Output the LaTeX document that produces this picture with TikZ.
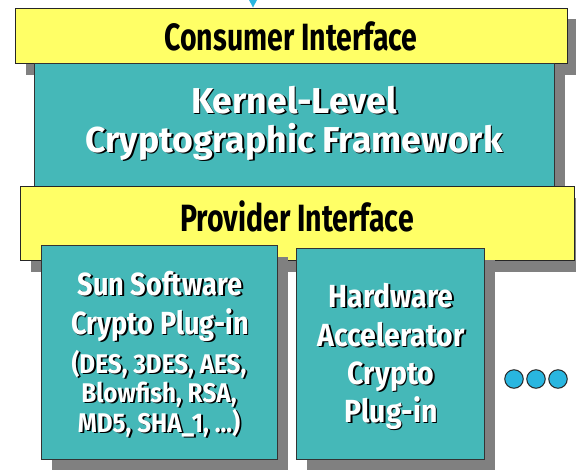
\documentclass[tikz,border=0pt]{standalone}
\usepackage{fontspec}
\setmainfont{Fira Sans}
\newfontfamily\fcond{Fira Sans}[FakeStretch=0.75]
\newfontfamily\fmid{Fira Sans}[FakeStretch=0.99]
\newfontfamily\fsub{Fira Sans}[FakeStretch=0.85]
\newfontfamily\fhw{Fira Sans}[FakeStretch=0.89]
\newfontfamily\fsmall{Fira Sans}[FakeStretch=0.9]
\usetikzlibrary{shadows}
\definecolor{boxyellow}{HTML}{FFFF66}
\definecolor{boxteal}{HTML}{45B8B8}
\definecolor{shadowgray}{HTML}{808080}
\definecolor{dotcyan}{HTML}{29B6E0}
\tikzset{
  shad/.style={general shadow={fill=shadowgray, shadow xshift=11pt, shadow yshift=-11.5pt}},
  ybox/.style={rectangle, draw=black!85, line width=0.8pt, fill=boxyellow, inner sep=0pt, anchor=north west, shad},
  tbox/.style={rectangle, draw=black!80, line width=0.8pt, fill=boxteal, inner sep=0pt, anchor=north west, shad},
  dot/.style={circle, draw=black!85, line width=1pt, fill=dotcyan, minimum size=18.5pt, inner sep=0pt},
  lbl/.style={anchor=base, inner sep=0pt}
}
\newcommand\wline[4]{%
  \node[lbl, text=black] (#1s) at (#2+1.8,#3+1.8) {#4};
  \node[lbl, text=white] (#1) at (#2,#3) {#4};}
\begin{document}
\begin{tikzpicture}[x=1pt,y=-1pt]
\useasboundingbox (0,0) rectangle (576,469);
% top arrow head
\fill[dotcyan] (248.5,-1) -- (257.5,-1) -- (253,7.5) -- cycle;
% boxes
\node[ybox, minimum width=552.5pt, minimum height=55.5pt] (cons) at (14.5,7.5) {};
\node[tbox, minimum width=520pt, minimum height=123pt] (kern) at (34,63) {};
\node[ybox, minimum width=554pt, minimum height=74pt] (prov) at (20,186) {};
\node[tbox, minimum width=236pt, minimum height=214pt] (sun) at (41,245) {};
\node[tbox, minimum width=188pt, minimum height=211pt] (hw) at (296,248) {};
% texts
\node[lbl, text=black, font=\fcond\bfseries\fontsize{38}{40}\selectfont] (constext) at (291,50) {Consumer Interface};
\node[lbl, text=black, font=\fcond\bfseries\fontsize{38}{40}\selectfont] (provtext) at (297,231) {Provider Interface};
\begin{scope}[every node/.append style={font=\fmid\bfseries\fontsize{36}{38}\selectfont}]
\wline{k1}{294}{113}{Kernel-Level}
\wline{k2}{294}{152}{Cryptographic Framework}
\end{scope}
\begin{scope}[every node/.append style={font=\fsub\bfseries\fontsize{32}{34}\selectfont}]
\wline{s1}{160}{295}{Sun Software}
\wline{s2}{160}{334}{Crypto Plug-in}
\end{scope}
\begin{scope}[every node/.append style={font=\fhw\bfseries\fontsize{32}{34}\selectfont}]
\wline{h1}{391}{307}{Hardware}
\wline{h2}{391}{346}{Accelerator}
\wline{h3}{391}{384}{Crypto}
\wline{h4}{391}{422}{Plug-in}
\end{scope}
\begin{scope}[every node/.append style={font=\fsmall\bfseries\fontsize{27}{29}\selectfont}]
\wline{s3}{159}{373}{(DES, 3DES, AES,}
\wline{s4}{159}{402}{Blowfish, RSA,}
\wline{s5}{159}{432}{MD5, SHA\_1, ...)}
\end{scope}
% dots
\node[dot] (d1) at (514,379) {};
\node[dot] (d2) at (536,379) {};
\node[dot] (d3) at (558,379) {};
\end{tikzpicture}
\end{document}
